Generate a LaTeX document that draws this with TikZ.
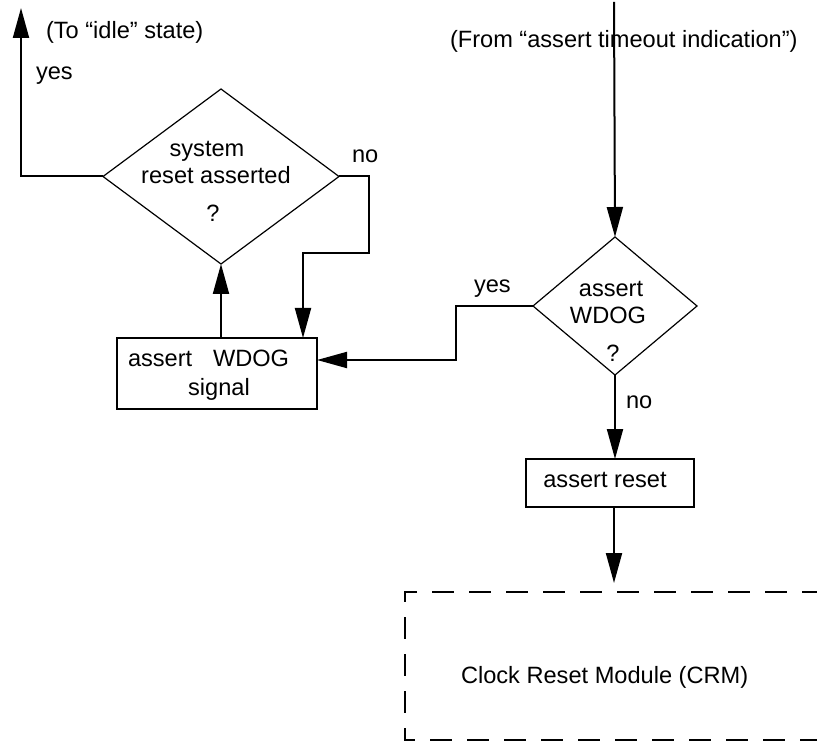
\documentclass[tikz,border=0pt]{standalone}
\usepackage{fontspec}
\setmainfont{Liberation Sans}
\usetikzlibrary{shapes.geometric,arrows.meta}
\begin{document}
\begin{tikzpicture}[x=0.5pt,y=-0.5pt,
  font=\fontsize{11.8}{14}\selectfont,
  every node/.style={inner sep=0pt,outer sep=0pt},
  dec/.style={draw,shape=diamond,line width=0.6pt,minimum width=#1},
  procbox/.style={draw,rectangle,line width=1pt},
  conn/.style={line width=1pt},
  arr/.style={conn,-{Triangle[length=15pt,width=8pt]}},
  lbl/.style={anchor=base},
  lblw/.style={anchor=base west}]
\useasboundingbox (0,0) rectangle (817,742);
% shapes
\node[dec=118pt,minimum height=87.5pt] (d1) at (221,176.5) {};
\node[dec=82pt,minimum height=69pt] (d2) at (615,306) {};
\node[procbox,minimum width=100pt,minimum height=35.5pt] (b1) at (217,373.5) {};
\node[procbox,minimum width=84pt,minimum height=24pt] (b2) at (610,483) {};
% texts in shapes
\node[lbl] (t1) at (207,157) {system};
\node[lbl] (t2) at (216,184) {reset asserted};
\node[lbl] (t3) at (213,222) {?};
\node[lbl] (t4) at (611,297) {assert};
\node[lbl] (t5) at (608,324) {WDOG};
\node[lbl] (t6) at (613,362) {?};
\node[lblw] (t7) at (128,366) {assert};
\node[lblw] (t8) at (213,366) {WDOG};
\node[lbl] (t9) at (219,395) {signal};
\node[lbl] (t10) at (605,487) {assert reset};
% free labels
\node[lblw] (idle) at (46,39) {(To “idle” state)};
\node[lblw] (y1) at (36,80) {yes};
\node[lblw] (n1) at (352,163) {no};
\node[lblw] (from) at (450,48) {(From “assert timeout indication”)};
\node[lblw] (y2) at (474,293) {yes};
\node[lblw] (n2) at (626,408) {no};
\node[lblw] (crm) at (461,683) {Clock Reset Module (CRM)};
% coordinates
\coordinate (up) at (21,8);
\coordinate (k1) at (369,253);
\coordinate (k1x) at (303,0);
\coordinate (k2) at (456,360);
\coordinate (top) at (614,2);
\coordinate (crmin) at (614,583);
\coordinate (cr) at (417,592);
% connectors
\draw[arr] (d1.west) -| (up);
\draw[arr] (d1.east) -| (k1) -| (b1.north -| k1x);
\draw[arr] (b1.north -| d1.south) -- (d1.south);
\draw[arr] (d2.west) -| (k2) -- (b1.east |- k2);
\draw[arr] (top) -- (d2.north);
\draw[arr] (d2.south) -- (d2.south |- b2.north);
\draw[arr] (b2.south -| crmin) -- (crmin);
% dashed module frame (open at right)
\draw[line width=1pt,dash pattern=on 11pt off 7.5pt]
  (cr) -- (405,592) -- (405,740) -- (817,740);
\draw[line width=1pt,dash pattern=on 11pt off 7.5pt,dash phase=11pt]
  (cr) -- (817,592);
\end{tikzpicture}
\end{document}
